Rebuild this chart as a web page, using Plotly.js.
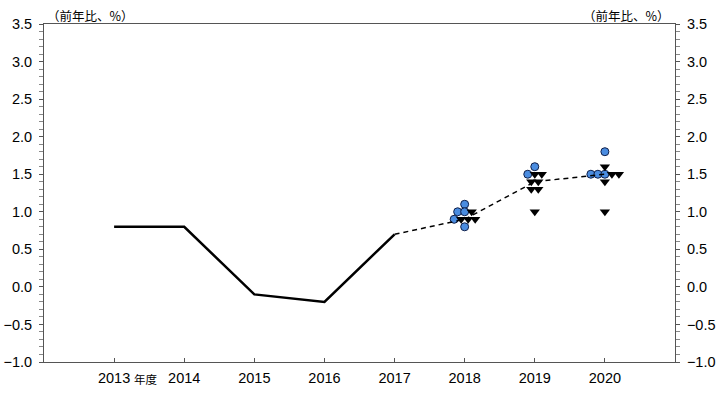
<!DOCTYPE html>
<html>
<head>
<meta charset="utf-8">
<script src="https://cdn.plot.ly/plotly-3.0.1.min.js"></script>
<style>html,body{margin:0;padding:0;background:#fff;}#chart{width:720px;height:399px;}</style>
</head>
<body>
<div id="chart"></div>
<script>
// Actual results (solid line)
const actualYears = [2013, 2014, 2015, 2016, 2017];
const actualValues = [0.8, 0.8, -0.1, -0.2, 0.7];
// Median forecast (dashed line)
const forecastYears = [2017, 2018, 2019, 2020];
const forecastValues = [0.7, 0.9, 1.4, 1.5];
// Individual forecasts (dot plot)
const dotYears = [2018, 2019, 2020];
const circleValues = [
  [1.1, 1.0, 1.0, 0.9, 0.8],
  [1.6, 1.5],
  [1.8, 1.5, 1.5, 1.5]
];
const triangleValues = [
  [1.0, 0.9, 0.9, 0.9],
  [1.5, 1.5, 1.4, 1.4, 1.3, 1.3, 1.0],
  [1.6, 1.5, 1.5, 1.4, 1.0]
];
const tickYears = [2013, 2014, 2015, 2016, 2017, 2018, 2019, 2020];
const tickLabels = ['2013', '2014', '2015', '2016', '2017', '2018', '2019', '2020'];
const yUnitLabel = '（前年比、%）';
const fiscalLabel = '年度';

// arrange dots: each value row holds circles first then triangles, centred on the year
const STEP = 0.1;
const cx = [], cy = [], tx = [], ty = [];
dotYears.forEach((yr, i) => {
  const items = [];
  circleValues[i].forEach(v => items.push({v, k: 'c'}));
  triangleValues[i].forEach(v => items.push({v, k: 't'}));
  const rows = {};
  items.forEach(it => { const key = it.v.toFixed(1); (rows[key] = rows[key] || []).push(it); });
  Object.values(rows).forEach(row => {
    const n = row.length;
    row.forEach((it, j) => {
      const x = yr + (j - (n - 1) / 2) * STEP;
      if (it.k === 'c') { cx.push(x); cy.push(it.v); } else { tx.push(x); ty.push(it.v); }
    });
  });
});

const numFont = {family: 'Liberation Sans, Arial, sans-serif', size: 14.5, color: '#000'};
const jpFont = {family: 'Noto Sans CJK JP, sans-serif', size: 12.5, color: '#000'};

const traces = [
  {x: cx, y: cy, type: 'scatter', mode: 'markers', hoverinfo: 'skip',
   marker: {symbol: 'circle', size: 8, color: '#4a8ce0', line: {color: '#10204a', width: 1}}},
  {x: tx, y: ty, type: 'scatter', mode: 'markers', hoverinfo: 'skip',
   marker: {symbol: 'triangle-down', size: 9, color: '#000', line: {width: 0}}},
  {x: forecastYears, y: forecastValues, type: 'scatter', mode: 'lines',
   line: {color: '#000', width: 1.5, dash: '5px,4px'}},
  {x: actualYears, y: actualValues, type: 'scatter', mode: 'lines',
   line: {color: '#000', width: 2.5}},
  {x: [2012], y: [0], yaxis: 'y2', type: 'scatter', mode: 'markers', marker: {opacity: 0}, hoverinfo: 'skip'}
];

const yAxisBase = {
  range: [-1.0, 3.5], dtick: 0.5, tick0: 0, tickformat: '.1f',
  ticks: 'outside', ticklen: 4, tickcolor: '#555', tickwidth: 1, ticklabelstandoff: 4,
  minor: {dtick: 0.1, ticks: 'outside', ticklen: 4, tickcolor: '#888', tickwidth: 1},
  showgrid: false, zeroline: false, showline: true, linecolor: '#555', linewidth: 1,
  tickfont: numFont, fixedrange: true
};

const layout = {
  width: 720, height: 399,
  margin: {l: 44, r: 45, t: 24, b: 37},
  paper_bgcolor: '#fff', plot_bgcolor: '#fff',
  showlegend: false,
  xaxis: {
    range: [2012, 2021], tickvals: tickYears, ticktext: tickLabels,
    ticks: 'inside', ticklen: 4, tickcolor: '#555', ticklabelstandoff: 3,
    showgrid: false, zeroline: false, showline: true, mirror: true, linecolor: '#555', linewidth: 1,
    tickfont: numFont, fixedrange: true
  },
  yaxis: Object.assign({}, yAxisBase, {side: 'left'}),
  yaxis2: Object.assign({}, yAxisBase, {side: 'right', overlaying: 'y'}),
  annotations: [
    {text: yUnitLabel, xref: 'paper', yref: 'paper', x: 0, y: 1, xanchor: 'left', yanchor: 'middle',
     xshift: 1, yshift: 9, showarrow: false, font: jpFont},
    {text: yUnitLabel, xref: 'paper', yref: 'paper', x: 1, y: 1, xanchor: 'right', yanchor: 'middle',
     xshift: -3, yshift: 9, showarrow: false, font: jpFont},
    {text: fiscalLabel, xref: 'x', yref: 'paper', x: 2013.46, y: 0, xanchor: 'center', yanchor: 'middle',
     yshift: -17, showarrow: false, font: {family: 'Noto Sans CJK JP, sans-serif', size: 11.5, color: '#000'}}
  ]
};

Plotly.newPlot('chart', traces, layout, {displayModeBar: false, staticPlot: true});
</script>
</body>
</html>
